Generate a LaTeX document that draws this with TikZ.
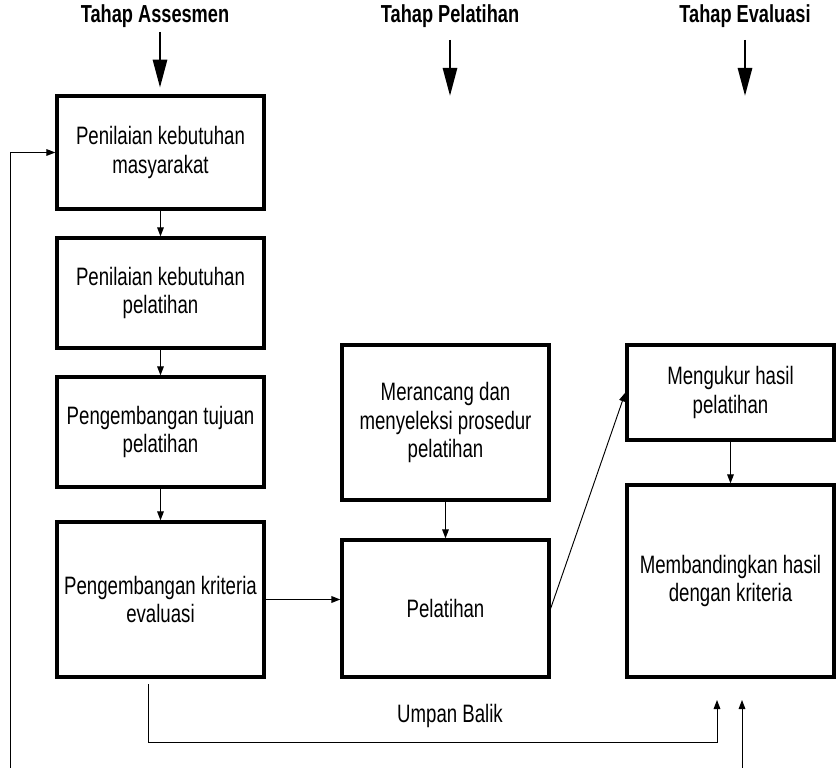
\documentclass[tikz,border=0pt]{standalone}
\usepackage{fontspec}
\setmainfont{Liberation Sans}[FakeStretch=0.74]
\usetikzlibrary{arrows.meta,shadows}

\tikzset{
  kotak/.style={draw,fill=white,line width=2.8pt,align=center,minimum width=6.21cm,
    font=\fontsize{21.5}{24}\selectfont,
    drop shadow={shadow xshift=0pt,shadow yshift=-1.2pt,fill=black,opacity=1}},
  judul/.style={font=\bfseries\fontsize{21}{24}\selectfont},
  panah/.style={line width=0.8pt,-{Triangle[length=0.27cm,width=0.2cm]}},
  panahbesar/.style={line width=2.4pt,-{Triangle[length=0.84cm,width=0.42cm]}}
}

\begin{document}
\begin{tikzpicture}[x=0.03cm,y=-0.03cm]
        \useasboundingbox (0,0) rectangle (839,768);
        %% Judul tahap
        \node[judul] (tA) at (155,16) {Tahap Assesmen};
        \node[judul] (tP) at (450,16) {Tahap Pelatihan};
        \node[judul] (tE) at (745,16) {Tahap Evaluasi};
        \coordinate (aA) at (160,32);
        \coordinate (aP) at (450,40);
        \coordinate (aE) at (745,40);
        \coordinate (pP) at (450,96);
        \coordinate (pE) at (745,96);
        %% Kolom assesmen
        \node[kotak,minimum height=3.39cm] (nilai1) at (160.5,152.5) {Penilaian kebutuhan\\masyarakat};
        \node[kotak,minimum height=3.3cm] (nilai2) at (160.5,293) {Penilaian kebutuhan\\pelatihan};
        \node[kotak,minimum height=3.3cm] (tujuan) at (160.5,432) {Pengembangan tujuan\\pelatihan};
        \node[kotak,minimum height=4.65cm] (kriteria) at (160.5,599.5) {Pengembangan kriteria\\evaluasi};
        %% Kolom pelatihan
        \node[kotak,minimum height=4.65cm] (rancang) at (445.5,422.5) {Merancang dan\\menyeleksi prosedur\\pelatihan};
        \node[kotak,minimum height=4.11cm] (latih) at (445.5,608.5) {Pelatihan};
        %% Kolom evaluasi
        \node[kotak,minimum height=2.85cm] (ukur) at (730.5,392.5) {Mengukur hasil\\pelatihan};
        \node[kotak,minimum height=5.76cm] (banding) at (730.5,581) {Membandingkan hasil\\dengan kriteria};
        %% Panah besar
        \draw[panahbesar,shorten >=0.2cm] (aA) -- (aA |- nilai1.north);
        \draw[panahbesar] (aP) -- (pP);
        \draw[panahbesar] (aE) -- (pE);
        %% Alur
        \draw[panah] (nilai1) -- (nilai2);
        \draw[panah] (nilai2) -- (tujuan);
        \draw[panah] (tujuan) -- (kriteria);
        \draw[panah] (rancang) -- (latih);
        \draw[panah] (ukur) -- (banding);
        \draw[panah,line width=1.2pt] (kriteria.east) -- (kriteria.east -| latih.west);
        \draw[panah] (latih.east) -- (ukur.west);
        %% Umpan balik
        \coordinate (ubA) at (148,684);
        \coordinate (ubB) at (717,700);
        \coordinate (ubC) at (742,768);
        \coordinate (ubD) at (742,700);
        \coordinate (kiri) at (10,768);
        \draw[panah] (ubA) |- (717,742) -- (ubB);
        \node[font=\fontsize{21.5}{24}\selectfont] (ub) at (450,716) {Umpan Balik};
        \draw[panah] (ubC) -- (ubD);
        \draw[panah] (kiri) |- (nilai1.west);
    \end{tikzpicture}
\end{document}
